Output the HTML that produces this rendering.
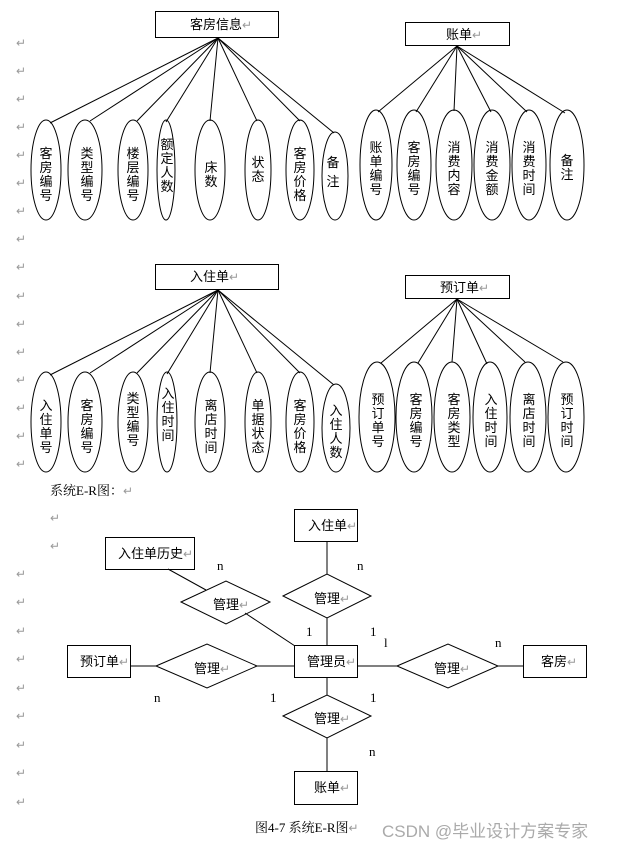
<!DOCTYPE html>
<html><head><meta charset="utf-8"><style>
body{margin:0;background:#fff;width:626px;height:852px;overflow:hidden}
svg{display:block}
text{font-family:"Liberation Sans","Noto Sans CJK SC",sans-serif;font-size:13px;fill:#000}
.r{fill:#999;font-size:12px}
.s{font-family:"Liberation Serif","Noto Serif CJK SC",serif;font-size:13px}
</style></head><body>
<svg width="626" height="852" xmlns="http://www.w3.org/2000/svg">
<g fill="none" stroke="#000" stroke-width="1">
<!-- section 1 -->
<rect x="155.5" y="11.5" width="123" height="26"/>
<line x1="218" y1="38" x2="50" y2="123"/><line x1="218" y1="38" x2="90" y2="121"/><line x1="218" y1="38" x2="137" y2="121"/><line x1="218" y1="38" x2="166" y2="122"/><line x1="218" y1="38" x2="210" y2="121"/><line x1="218" y1="38" x2="257" y2="121"/><line x1="218" y1="38" x2="300" y2="121"/><line x1="218" y1="38" x2="334" y2="133"/>
<ellipse cx="46" cy="170" rx="15" ry="50"/><ellipse cx="85" cy="170" rx="17" ry="50"/><ellipse cx="133" cy="170" rx="15" ry="50"/><ellipse cx="166" cy="170" rx="9" ry="50"/><ellipse cx="210" cy="170" rx="15" ry="50"/><ellipse cx="258" cy="170" rx="13" ry="50"/><ellipse cx="300" cy="170" rx="14" ry="50"/><ellipse cx="335" cy="176" rx="13" ry="44"/>
<rect x="405.5" y="22.5" width="104" height="23"/>
<line x1="457" y1="46" x2="378" y2="112"/><line x1="457" y1="46" x2="416" y2="112"/><line x1="457" y1="46" x2="454" y2="111"/><line x1="457" y1="46" x2="491" y2="112"/><line x1="457" y1="46" x2="527" y2="112"/><line x1="457" y1="46" x2="565" y2="113"/>
<ellipse cx="376" cy="165" rx="16" ry="55"/><ellipse cx="414" cy="165" rx="17" ry="55"/><ellipse cx="454" cy="165" rx="18" ry="55"/><ellipse cx="492" cy="165" rx="18" ry="55"/><ellipse cx="529" cy="165" rx="17" ry="55"/><ellipse cx="567" cy="165" rx="17" ry="55"/>
<!-- section 2 -->
<rect x="155.5" y="264.5" width="123" height="25"/>
<line x1="218" y1="290" x2="50" y2="375"/><line x1="218" y1="290" x2="90" y2="373"/><line x1="218" y1="290" x2="137" y2="373"/><line x1="218" y1="290" x2="167" y2="374"/><line x1="218" y1="290" x2="210" y2="373"/><line x1="218" y1="290" x2="257" y2="373"/><line x1="218" y1="290" x2="300" y2="373"/><line x1="218" y1="290" x2="334" y2="385"/>
<ellipse cx="46" cy="422" rx="15" ry="50"/><ellipse cx="85" cy="422" rx="17" ry="50"/><ellipse cx="133" cy="422" rx="15" ry="50"/><ellipse cx="167" cy="422" rx="10" ry="50"/><ellipse cx="210" cy="422" rx="15" ry="50"/><ellipse cx="258" cy="422" rx="13" ry="50"/><ellipse cx="300" cy="422" rx="14" ry="50"/><ellipse cx="336" cy="428" rx="14" ry="44"/>
<rect x="405.5" y="275.5" width="104" height="23"/>
<line x1="457" y1="299" x2="381" y2="363"/><line x1="457" y1="299" x2="418" y2="363"/><line x1="457" y1="299" x2="452" y2="362"/><line x1="457" y1="299" x2="487" y2="364"/><line x1="457" y1="299" x2="525" y2="362"/><line x1="457" y1="299" x2="563" y2="362"/>
<ellipse cx="377" cy="417" rx="18" ry="55"/><ellipse cx="414" cy="417" rx="18" ry="55"/><ellipse cx="452" cy="417" rx="18" ry="55"/><ellipse cx="490" cy="417" rx="17" ry="55"/><ellipse cx="528" cy="417" rx="18" ry="55"/><ellipse cx="566" cy="417" rx="18" ry="55"/>
<!-- ER -->
<rect x="294.5" y="509.5" width="63" height="32"/>
<rect x="105.5" y="537.5" width="89" height="32"/>
<rect x="67.5" y="645.5" width="63" height="32"/>
<rect x="294.5" y="645.5" width="63" height="32"/>
<rect x="523.5" y="645.5" width="63" height="32"/>
<rect x="294.5" y="771.5" width="63" height="33"/>
<polygon points="283,596 327,574 371,596 327,618"/>
<polygon points="181,602 226,581 270,602 226,624"/>
<polygon points="156,666 207,644 257,666 207,688"/>
<polygon points="397,666 448,644 498,666 448,688"/>
<polygon points="283,716 327,695 371,716 327,738"/>
<line x1="327" y1="541" x2="327" y2="574"/><line x1="327" y1="618" x2="327" y2="645"/>
<line x1="168" y1="569" x2="206" y2="590"/><line x1="245" y1="613" x2="295" y2="646"/>
<line x1="131" y1="666" x2="156" y2="666"/><line x1="257" y1="666" x2="294" y2="666"/>
<line x1="358" y1="666" x2="397" y2="666"/><line x1="498" y1="666" x2="523" y2="666"/>
<line x1="327" y1="677" x2="327" y2="695"/><line x1="327" y1="738" x2="327" y2="771"/>
</g>
<g>
<text x="190" y="29">客房信息<tspan class="r">↵</tspan></text>
<text x="446" y="39">账单<tspan class="r">↵</tspan></text>
<text x="190" y="281">入住单<tspan class="r">↵</tspan></text>
<text x="440" y="292">预订单<tspan class="r">↵</tspan></text>
</g>
<g text-anchor="middle">
<text x="46" y="158">客<tspan x="46" dy="14">房</tspan><tspan x="46" dy="14">编</tspan><tspan x="46" dy="14">号</tspan></text>
<text x="87" y="158">类<tspan x="87" dy="14">型</tspan><tspan x="87" dy="14">编</tspan><tspan x="87" dy="14">号</tspan></text>
<text x="133" y="158">楼<tspan x="133" dy="14">层</tspan><tspan x="133" dy="14">编</tspan><tspan x="133" dy="14">号</tspan></text>
<text x="167" y="149">额<tspan x="167" dy="14">定</tspan><tspan x="167" dy="14">人</tspan><tspan x="167" dy="14">数</tspan></text>
<text x="211" y="172">床<tspan x="211" dy="14">数</tspan></text>
<text x="258" y="167">状<tspan x="258" dy="14">态</tspan></text>
<text x="300" y="158">客<tspan x="300" dy="14">房</tspan><tspan x="300" dy="14">价</tspan><tspan x="300" dy="14">格</tspan></text>
<text x="333" y="167">备<tspan x="333" dy="19">注</tspan></text>
<text x="376" y="152">账<tspan x="376" dy="14">单</tspan><tspan x="376" dy="14">编</tspan><tspan x="376" dy="14">号</tspan></text>
<text x="414" y="152">客<tspan x="414" dy="14">房</tspan><tspan x="414" dy="14">编</tspan><tspan x="414" dy="14">号</tspan></text>
<text x="454" y="152">消<tspan x="454" dy="14">费</tspan><tspan x="454" dy="14">内</tspan><tspan x="454" dy="14">容</tspan></text>
<text x="492" y="152">消<tspan x="492" dy="14">费</tspan><tspan x="492" dy="14">金</tspan><tspan x="492" dy="14">额</tspan></text>
<text x="529" y="152">消<tspan x="529" dy="14">费</tspan><tspan x="529" dy="14">时</tspan><tspan x="529" dy="14">间</tspan></text>
<text x="567" y="165">备<tspan x="567" dy="14">注</tspan></text>
<text x="46" y="410">入<tspan x="46" dy="14">住</tspan><tspan x="46" dy="14">单</tspan><tspan x="46" dy="14">号</tspan></text>
<text x="87" y="410">客<tspan x="87" dy="14">房</tspan><tspan x="87" dy="14">编</tspan><tspan x="87" dy="14">号</tspan></text>
<text x="133" y="403">类<tspan x="133" dy="14">型</tspan><tspan x="133" dy="14">编</tspan><tspan x="133" dy="14">号</tspan></text>
<text x="168" y="398">入<tspan x="168" dy="14">住</tspan><tspan x="168" dy="14">时</tspan><tspan x="168" dy="14">间</tspan></text>
<text x="211" y="410">离<tspan x="211" dy="14">店</tspan><tspan x="211" dy="14">时</tspan><tspan x="211" dy="14">间</tspan></text>
<text x="258" y="410">单<tspan x="258" dy="14">据</tspan><tspan x="258" dy="14">状</tspan><tspan x="258" dy="14">态</tspan></text>
<text x="300" y="410">客<tspan x="300" dy="14">房</tspan><tspan x="300" dy="14">价</tspan><tspan x="300" dy="14">格</tspan></text>
<text x="336" y="415">入<tspan x="336" dy="14">住</tspan><tspan x="336" dy="14">人</tspan><tspan x="336" dy="14">数</tspan></text>
<text x="378" y="404">预<tspan x="378" dy="14">订</tspan><tspan x="378" dy="14">单</tspan><tspan x="378" dy="14">号</tspan></text>
<text x="416" y="404">客<tspan x="416" dy="14">房</tspan><tspan x="416" dy="14">编</tspan><tspan x="416" dy="14">号</tspan></text>
<text x="454" y="404">客<tspan x="454" dy="14">房</tspan><tspan x="454" dy="14">类</tspan><tspan x="454" dy="14">型</tspan></text>
<text x="491" y="404">入<tspan x="491" dy="14">住</tspan><tspan x="491" dy="14">时</tspan><tspan x="491" dy="14">间</tspan></text>
<text x="529" y="404">离<tspan x="529" dy="14">店</tspan><tspan x="529" dy="14">时</tspan><tspan x="529" dy="14">间</tspan></text>
<text x="567" y="404">预<tspan x="567" dy="14">订</tspan><tspan x="567" dy="14">时</tspan><tspan x="567" dy="14">间</tspan></text>
</g>
<g>
<text x="50" y="495" class="s">系统E-R图：<tspan class="r">↵</tspan></text>
<text x="308" y="530">入住单<tspan class="r">↵</tspan></text>
<text x="118" y="558">入住单历史<tspan class="r">↵</tspan></text>
<text x="80" y="666">预订单<tspan class="r">↵</tspan></text>
<text x="307" y="666">管理员<tspan class="r">↵</tspan></text>
<text x="541" y="666">客房<tspan class="r">↵</tspan></text>
<text x="314" y="792">账单<tspan class="r">↵</tspan></text>
<text x="314" y="603">管理<tspan class="r">↵</tspan></text>
<text x="213" y="609">管理<tspan class="r">↵</tspan></text>
<text x="194" y="673">管理<tspan class="r">↵</tspan></text>
<text x="434" y="673">管理<tspan class="r">↵</tspan></text>
<text x="314" y="723">管理<tspan class="r">↵</tspan></text>
<text x="217" y="570" class="s">n</text>
<text x="357" y="570" class="s">n</text>
<text x="306" y="636" class="s">1</text>
<text x="370" y="636" class="s">1</text>
<text x="384" y="647" class="s">l</text>
<text x="495" y="647" class="s">n</text>
<text x="154" y="702" class="s">n</text>
<text x="270" y="702" class="s">1</text>
<text x="370" y="702" class="s">1</text>
<text x="369" y="756" class="s">n</text>
<text x="255" y="832" class="s">图4-7 系统E-R图<tspan class="r">↵</tspan></text>
<text x="382" y="837" style="fill:#aaa;font-size:17px">CSDN @毕业设计方案专家</text>
</g>
<g>
<text x="16" y="47" class="r">↵</text><text x="16" y="75" class="r">↵</text><text x="16" y="103" class="r">↵</text><text x="16" y="131" class="r">↵</text><text x="16" y="159" class="r">↵</text><text x="16" y="187" class="r">↵</text><text x="16" y="215" class="r">↵</text><text x="16" y="243" class="r">↵</text><text x="16" y="271" class="r">↵</text><text x="16" y="300" class="r">↵</text><text x="16" y="328" class="r">↵</text><text x="16" y="356" class="r">↵</text><text x="16" y="384" class="r">↵</text><text x="16" y="412" class="r">↵</text><text x="16" y="440" class="r">↵</text><text x="16" y="468" class="r">↵</text>
<text x="50" y="522" class="r">↵</text><text x="50" y="550" class="r">↵</text>
<text x="16" y="578" class="r">↵</text><text x="16" y="606" class="r">↵</text><text x="16" y="635" class="r">↵</text><text x="16" y="663" class="r">↵</text><text x="16" y="692" class="r">↵</text><text x="16" y="720" class="r">↵</text><text x="16" y="749" class="r">↵</text><text x="16" y="777" class="r">↵</text><text x="16" y="806" class="r">↵</text>
</g>
</svg>
</body></html>
